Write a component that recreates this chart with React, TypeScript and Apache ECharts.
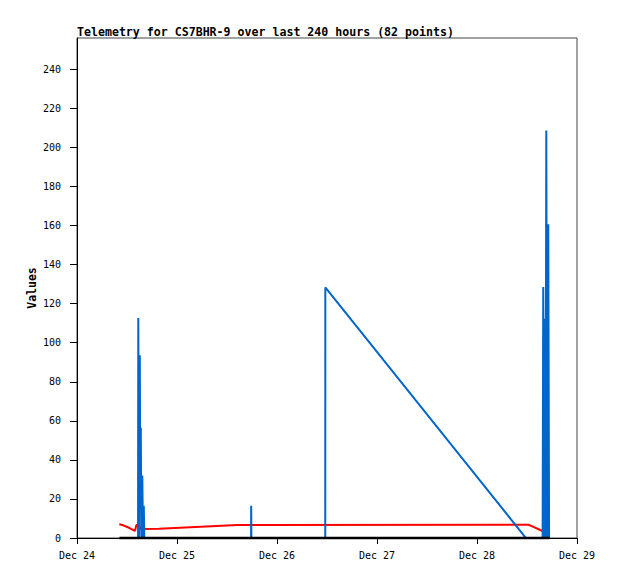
import React, { useEffect, useRef } from "react";
import * as echarts from "echarts";

// X axis: hours since Dec 24 00:00; labels every 24 h
const xLabels = ["Dec 24", "Dec 25", "Dec 26", "Dec 27", "Dec 28", "Dec 29"];
const yTicks = [0, 20, 40, 60, 80, 100, 120, 140, 160, 180, 200, 220, 240];
const yAxisName = "Values";

// Black series (flat at 0)
const blackHours = [10.2, 113.4];
const blackValues = [0, 0];

// Red series
const redHours = [10.15, 11.1, 12.6, 13.9, 14.25, 14.95, 15.2, 19.7, 38.5, 108.3, 109.0, 111.7];
const redValues = [7.0, 6.5, 5.1, 3.6, 6.6, 6.6, 4.6, 4.7, 6.6, 6.8, 6.2, 3.6];

// Blue series
const blueHours = [
  14.65, 14.71, 14.9, 15.07, 15.2, 15.31, 15.45, 15.67, 15.85, 16.03, 16.15,
  41.78, 41.8, 41.85,
  59.58, 59.6, 107.75,
  111.75, 111.9, 112.1, 112.27, 112.45, 112.63, 112.85, 113.1, 113.3,
];
const blueValues = [
  0, 112.7, 0, 93.6, 19, 56.4, 0, 32, 0, 16.5, 0,
  0, 16.5, 0,
  0, 128.3, 0,
  0, 128.5, 0, 112.3, 0, 208.7, 0, 160.6, 0,
];

const zip = (xs: number[], ys: number[]) => xs.map((x, i) => [x, ys[i]]);

export default function App() {
  const ref = useRef<HTMLDivElement>(null);
  useEffect(() => {
    if (!ref.current) return;
    const chart = echarts.init(ref.current, null, { renderer: "svg" });
    const mono = "DejaVu Sans Mono";
    chart.setOption({
      animation: false,
      backgroundColor: "#ffffff",
      title: {
        text: "Telemetry for CS7BHR-9 over last 240 hours (82 points)",
        left: 77,
        top: 26,
        padding: 0,
        textStyle: { fontFamily: mono, fontWeight: "bold", fontSize: 11.6, color: "#000" },
      },
      graphic: [
        {
          type: "text",
          x: 31.5,
          y: 288,
          rotation: Math.PI / 2,
          style: {
            text: yAxisName,
            fontFamily: mono,
            fontWeight: "bold",
            fontSize: 11.5,
            fill: "#000",
            align: "center",
            verticalAlign: "middle",
          },
        },
      ],
      grid: {
        left: 77,
        right: 41,
        top: 38,
        bottom: 41,
        show: true,
        borderColor: "#444",
        borderWidth: 1,
        backgroundColor: "transparent",
      },
      xAxis: {
        type: "value",
        min: 0,
        max: 120,
        interval: 24,
        axisLine: { show: true, onZero: false, lineStyle: { color: "#000", width: 1 } },
        axisTick: { show: true, length: 6, lineStyle: { color: "#000" } },
        splitLine: { show: false },
        axisLabel: {
          margin: 12,
          fontFamily: mono,
          fontSize: 10,
          color: "#000",
          formatter: (v: number) => xLabels[Math.round(v / 24)] ?? "",
        },
      },
      yAxis: {
        type: "value",
        min: 0,
        max: 256,
        axisLine: { show: true, lineStyle: { color: "#000", width: 1 } },
        axisTick: { show: true, length: 7, customValues: yTicks, lineStyle: { color: "#000" } },
        splitLine: { show: false },
        axisLabel: {
          customValues: yTicks,
          margin: 16,
          fontFamily: mono,
          fontSize: 10,
          color: "#000",
        },
      },
      series: [
        {
          type: "line",
          data: zip(redHours, redValues),
          showSymbol: false,
          lineStyle: { color: "#ff0000", width: 2 },
          z: 2,
        },
        {
          type: "line",
          data: zip(blueHours, blueValues),
          showSymbol: false,
          lineStyle: { color: "#0066cc", width: 2 },
          z: 3,
        },
        {
          type: "line",
          data: zip(blackHours, blackValues),
          showSymbol: false,
          clip: false,
          lineStyle: { color: "#000000", width: 2.5 },
          z: 4,
        },
      ],
    });
    return () => chart.dispose();
  }, []);
  return <div ref={ref} style={{ width: 618, height: 579, position: "absolute", left: 0, top: 0 }} />;
}
